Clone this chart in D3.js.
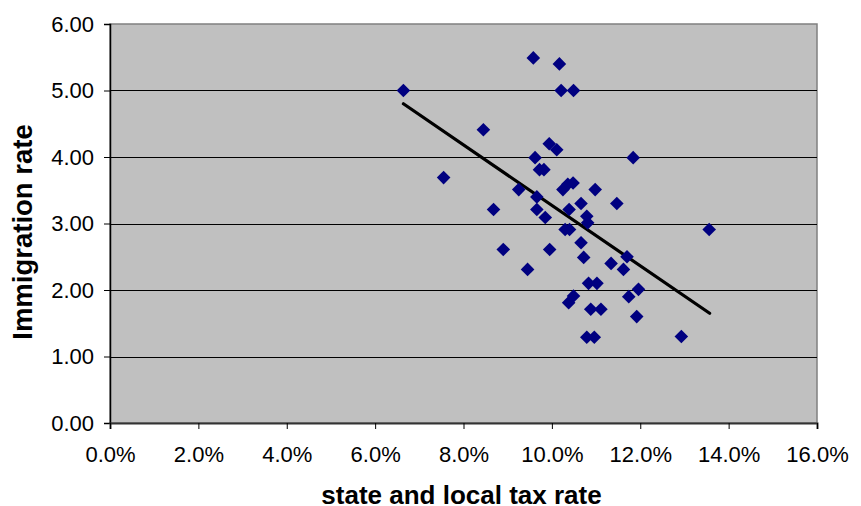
<!DOCTYPE html>
<html>
<head>
<meta charset="utf-8">
<script src="https://cdn.jsdelivr.net/npm/d3@7"></script>
<style>
  html, body { margin: 0; padding: 0; background: #ffffff; }
  svg { display: block; font-family: Arial, "Liberation Sans", sans-serif; }
</style>
</head>
<body>
<svg id="chart" width="861" height="506"></svg>
<script>
// state and local tax rate (%) for each state
const taxRate = [
  6.64, 9.58, 10.17, 10.21, 10.49, 8.45, 9.94, 10.11, 9.62, 11.84,
  7.55, 9.72, 9.82, 9.25, 10.25, 10.36, 10.48, 10.98, 9.66, 10.66,
  11.47, 8.68, 9.66, 10.39, 9.85, 10.79, 10.81, 10.30, 10.40, 13.56,
  8.90, 9.95, 10.66, 10.72, 11.70, 11.34, 11.62, 9.45, 10.83, 11.02,
  11.96, 10.49, 11.74, 10.38, 10.88, 11.11, 11.92, 10.79, 10.96, 12.93
];
// immigration rate for each state
const immigration = [
  5.00, 5.49, 5.40, 5.00, 5.00, 4.41, 4.20, 4.11, 3.99, 3.99,
  3.69, 3.81, 3.81, 3.51, 3.51, 3.59, 3.61, 3.51, 3.40, 3.30,
  3.30, 3.21, 3.21, 3.21, 3.09, 3.11, 3.01, 2.91, 2.91, 2.91,
  2.61, 2.61, 2.71, 2.49, 2.50, 2.40, 2.31, 2.31, 2.10, 2.10,
  2.01, 1.91, 1.90, 1.81, 1.71, 1.71, 1.60, 1.29, 1.29, 1.30
];
// linear trend line end points
const trendX = [6.64, 13.57];
const trendY = [4.80, 1.65];

const xTicks = [0, 2, 4, 6, 8, 10, 12, 14, 16];
const yTicks = [0, 1, 2, 3, 4, 5, 6];
const xTitle = "state and local tax rate";
const yTitle = "Immigration rate";

const svg = d3.select("#chart");
const pLeft = 110, pTop = 24, pRight = 817, pBottom = 423;

const x = d3.scaleLinear().domain([0, 16]).range([pLeft, pRight]);
const y = d3.scaleLinear().domain([0, 6]).range([pBottom, pTop]);

// plot area
svg.append("rect")
  .attr("x", pLeft).attr("y", pTop)
  .attr("width", pRight - pLeft).attr("height", pBottom - pTop)
  .attr("fill", "#c0c0c0")
  .attr("stroke", "#808080").attr("stroke-width", 1.5);

// gridlines
svg.append("g").selectAll("line")
  .data(yTicks.filter(d => d > 0 && d < 6))
  .join("line")
  .attr("x1", pLeft).attr("x2", pRight)
  .attr("y1", d => Math.round(y(d)) + 0.5).attr("y2", d => Math.round(y(d)) + 0.5)
  .attr("stroke", "#000").attr("stroke-width", 1.2);

// y axis
const yAxis = svg.append("g")
  .attr("transform", `translate(${pLeft},0)`)
  .call(d3.axisLeft(y).tickValues(yTicks).tickFormat(d3.format(".2f")).tickSize(6).tickPadding(10));
yAxis.select(".domain").attr("stroke", "#000").attr("stroke-width", 1.5);
yAxis.selectAll(".tick line").attr("stroke", "#000");
yAxis.selectAll("text").attr("font-size", 22).attr("fill", "#000")
  .attr("font-family", "Arial, 'Liberation Sans', sans-serif");

// x axis
const xAxis = svg.append("g")
  .attr("transform", `translate(0,${pBottom})`)
  .call(d3.axisBottom(x).tickValues(xTicks).tickFormat(d => d.toFixed(1) + "%").tickSize(6).tickPadding(17));
xAxis.select(".domain").attr("stroke", "#333").attr("stroke-width", 2);
xAxis.selectAll(".tick line").attr("stroke", "#000");
xAxis.selectAll("text").attr("font-size", 22).attr("fill", "#000")
  .attr("font-family", "Arial, 'Liberation Sans', sans-serif");

// trend line
svg.append("line")
  .attr("x1", x(trendX[0])).attr("y1", y(trendY[0]))
  .attr("x2", x(trendX[1])).attr("y2", y(trendY[1]))
  .attr("stroke", "#000").attr("stroke-width", 3.2).attr("stroke-linecap", "round");

// points
const pts = taxRate.map((t, i) => ({ t, v: immigration[i] }));
const r = 6.8;
svg.append("g").selectAll("path")
  .data(pts)
  .join("path")
  .attr("d", `M0,${-r}L${r},0L0,${r}L${-r},0Z`)
  .attr("transform", d => `translate(${x(d.t)},${y(d.v)})`)
  .attr("fill", "#000080");

// axis titles
svg.append("text")
  .attr("x", (pLeft + pRight) / 2 - 2).attr("y", 504)
  .attr("text-anchor", "middle")
  .attr("font-size", 26).attr("font-weight", "bold").attr("fill", "#000")
  .text(xTitle);

svg.append("text")
  .attr("transform", `translate(32,232) rotate(-90)`)
  .attr("text-anchor", "middle")
  .attr("font-size", 27.5).attr("font-weight", "bold").attr("fill", "#000")
  .text(yTitle);
</script>
</body>
</html>
